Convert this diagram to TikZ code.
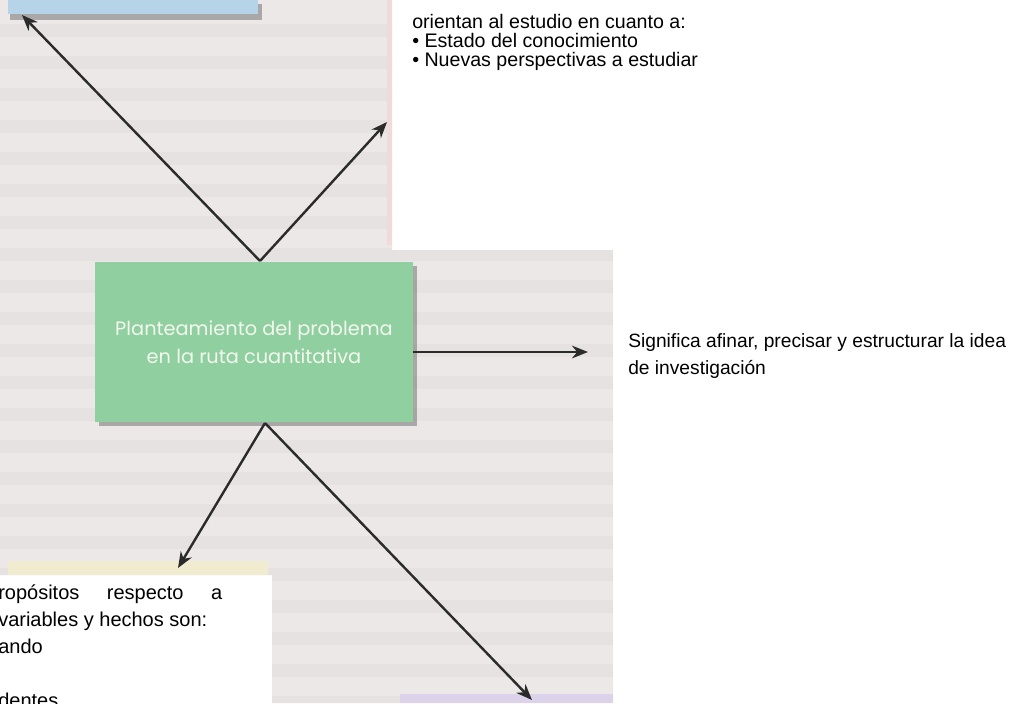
\documentclass[tikz,border=0pt]{standalone}
\usepackage{fontspec}
\setmainfont{Liberation Sans}
\newfontfamily\boxfont{Poppins}
\usetikzlibrary{arrows.meta}
\definecolor{pagegray}{HTML}{EBE8E7}
\definecolor{rowgray}{HTML}{DDD9D8}
\definecolor{boxgreen}{HTML}{8FCFA0}
\definecolor{greentext}{HTML}{F3F7EE}
\definecolor{arrowgray}{HTML}{2B2B2B}
\definecolor{bluebar}{HTML}{B6D4E7}
\definecolor{paleyellow}{HTML}{F1ECD0}
\definecolor{lavender}{HTML}{DCD2EA}
\definecolor{pinkedge}{HTML}{F0DADA}
\begin{document}
\begin{tikzpicture}[x=0.75pt,y=-0.75pt,
  link/.style={draw=arrowgray,line width=1.8pt,-{Stealth[length=12pt,width=9.5pt]}},
  note/.style={font=\fontsize{14.4pt}{19.5pt}\selectfont,anchor=base west,inner sep=0pt,text=black},
  topnote/.style={font=\fontsize{14.7pt}{19.5pt}\selectfont,anchor=base west,inner sep=0pt,text=black},
  bignote/.style={font=\fontsize{15pt}{20pt}\selectfont,anchor=base west,inner sep=0pt,text=black},
  boxshadow/.style={fill=black!55,opacity=0.55},
]
\useasboundingbox (0,0) rectangle (1016,703);
\clip (0,0) rectangle (1016,703);
\fill[white] (0,0) rectangle (1016,703);
% faded book page
\fill[pagegray] (0,0) -- (392,0) -- (392,250) -- (613,250) -- (613,703) -- (272,703) -- (272,575) -- (0,575) -- cycle;
\begin{scope}
\clip (0,0) -- (392,0) -- (392,250) -- (613,250) -- (613,703) -- (272,703) -- (272,575) -- (0,575) -- cycle;
\foreach \y in {24,56,...,696} \fill[rowgray,opacity=0.35] (0,\y) rectangle (613,\y+13);
\end{scope}
\fill[pinkedge] (387,0) rectangle (392,245);
\fill[paleyellow] (8,561) rectangle (268,575);
\fill[lavender] (400,694) rectangle (613,703);
% top-left blue bar
\fill[boxshadow] (10,4) rectangle (262,20);
\node (topbox) [fill=bluebar,anchor=north west,minimum width=187.5pt,minimum height=10.5pt,inner sep=0pt] at (8,0) {};
% central box
\fill[boxshadow] (99,266) rectangle (417,426);
\node (main) [fill=boxgreen,minimum width=238.5pt,minimum height=120pt,inner sep=0pt,align=center,text=greentext,font=\boxfont\fontsize{14.5pt}{21pt}\selectfont] at (254,342) {Planteamiento del problema\\en la ruta cuantitativa};
% connector ends
\coordinate (ntop) at (260,261);
\coordinate (nbot) at (265,423);
\coordinate (nright) at (413,352);
\coordinate (tipA) at (22,15);
\coordinate (tipB) at (387,122);
\coordinate (tipC) at (588,352);
\coordinate (tipD) at (178,568);
\coordinate (tipE) at (532,700);
\draw[link] (ntop) -- (tipA);
\draw[link] (ntop) -- (tipB);
\draw[link] (nright) -- (tipC);
\draw[link] (nbot) -- (tipD);
\draw[link] (nbot) -- (tipE);
% texts
\node[topnote] (t1) at (412,28) {orientan al estudio en cuanto a:};
\node[topnote] (t2) at (412,47) {• Estado del conocimiento};
\node[topnote] (t3) at (412,66) {• Nuevas perspectivas a estudiar};
\node[note] (r1) at (628,347) {Significa afinar, precisar y estructurar la idea};
\node[note] (r2) at (628,374) {de investigación};
\node[bignote] (b1) at (-2,599) {\hbox to 168pt{ropósitos\hfill respecto\hfill a}};
\node[bignote] (b2) at (-2,626) {variables y hechos son:};
\node[bignote] (b3) at (-2,653) {ando};
\node[bignote] (b4) at (-2,707) {dentes};
\end{tikzpicture}
\end{document}
